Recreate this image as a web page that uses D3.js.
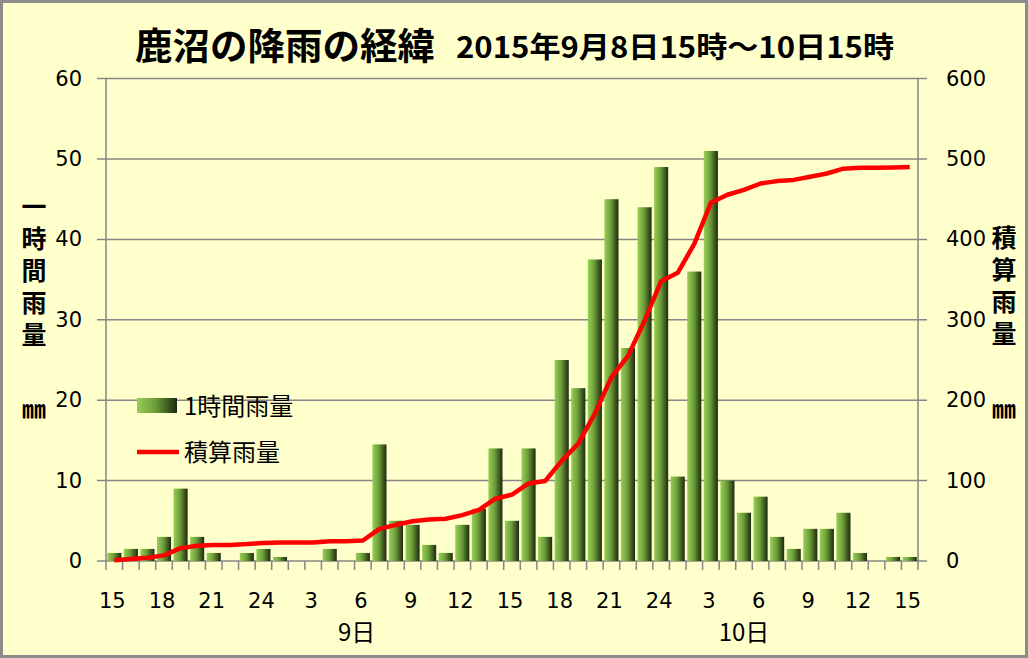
<!DOCTYPE html>
<html>
<head>
<meta charset="utf-8">
<script src="https://d3js.org/d3.v7.min.js"></script>
<style>
  body { margin: 0; background: #fff; }
  text { font-family: "DejaVu Sans", Verdana, sans-serif; }
  .jp { font-family: "Noto Sans CJK JP", sans-serif; }
</style>
</head>
<body>
<svg id="MainSVG" width="1028" height="658"></svg>
<script>
// hour labels for every category (9/8 15時 .. 9/10 15時)
var hours = [15,16,17,18,19,20,21,22,23,24,1,2,3,4,5,6,7,8,9,10,11,12,13,14,
             15,16,17,18,19,20,21,22,23,24,1,2,3,4,5,6,7,8,9,10,11,12,13,14,15];
// 1時間雨量 (mm)
var hourly = [1,1.5,1.5,3,9,3,1,0,1,1.5,0.5,0,0,1.5,0,1,14.5,5,4.5,2,1,4.5,6.5,14,
              5,14,3,25,21.5,37.5,45,26.5,44,49,10.5,36,51,10,6,8,3,1.5,4,4,6,1,0,0.5,0.5];
// 積算雨量 (mm)
var total = [1,2.5,4,7,16,19,20,20,21,22.5,23,23,23,24.5,24.5,25.5,40,45,49.5,51.5,52.5,57,63.5,77.5,
             82.5,96.5,99.5,124.5,146,183.5,228.5,255,299,348,358.5,394.5,445.5,455.5,461.5,469.5,
             472.5,474,478,482,488,489,489,489.5,490];
var leftTicks = [0,10,20,30,40,50,60];
var rightTicks = [0,100,200,300,400,500,600];

function draw() {
  var svg = d3.select("#MainSVG");

  // background + frame
  svg.append("rect").attr("x", 1.5).attr("y", 1.5).attr("width", 1025).attr("height", 655)
    .attr("fill", "#FFFFCC").attr("stroke", "#8c8c8c").attr("stroke-width", 3);

  var defs = svg.append("defs");
  var grad = defs.append("linearGradient").attr("id", "barGrad")
    .attr("x1", "0%").attr("x2", "100%").attr("y1", "0%").attr("y2", "0%");
  grad.append("stop").attr("offset", "0%").attr("stop-color", "#96d056");
  grad.append("stop").attr("offset", "45%").attr("stop-color", "#6e9e3a");
  grad.append("stop").attr("offset", "100%").attr("stop-color", "#1c2a0e");

  var pl = 106, pr = 918, pt = 78.6, pb = 561;

  var xs = d3.scaleBand().domain(d3.range(hours.length)).range([pl, pr]).paddingInner(0.15).paddingOuter(0.075);
  var xc = d3.scaleBand().domain(d3.range(hours.length)).range([pl, pr]); // full category cells
  var ys = d3.scaleLinear().domain([0, 60]).range([pb, pt]);
  var ys2 = d3.scaleLinear().domain([0, 600]).range([pb, pt]);

  // gridlines
  svg.append("g").selectAll("line").data(leftTicks).enter().append("line")
    .attr("x1", pl - 9).attr("x2", pr + 9)
    .attr("y1", function(d){ return ys(d); }).attr("y2", function(d){ return ys(d); })
    .attr("stroke", "#868686").attr("stroke-width", 1.5);

  // axis lines
  svg.append("line").attr("x1", pl).attr("x2", pl).attr("y1", pt).attr("y2", pb)
    .attr("stroke", "#868686").attr("stroke-width", 1.5);
  svg.append("line").attr("x1", pr).attr("x2", pr).attr("y1", pt).attr("y2", pb + 9)
    .attr("stroke", "#868686").attr("stroke-width", 1.5);

  // x tick marks between categories
  svg.append("g").selectAll("line").data(d3.range(hours.length)).enter().append("line")
    .attr("x1", function(d){ return xc(d); }).attr("x2", function(d){ return xc(d); })
    .attr("y1", pb).attr("y2", pb + 9)
    .attr("stroke", "#868686").attr("stroke-width", 1.5);

  // bars
  svg.append("g").selectAll("rect").data(hourly).enter().append("rect")
    .attr("x", function(d, i){ return xs(i); })
    .attr("width", xs.bandwidth())
    .attr("y", function(d){ return ys(d); })
    .attr("height", function(d){ return pb - ys(d); })
    .attr("fill", "url(#barGrad)");

  // cumulative line
  var line = d3.line()
    .x(function(d, i){ return xc(i) + xc.bandwidth() / 2; })
    .y(function(d){ return ys2(d); });
  svg.append("path").datum(total).attr("d", line)
    .attr("fill", "none").attr("stroke", "#ff0000").attr("stroke-width", 4.5)
    .attr("stroke-linejoin", "round");

  // left tick labels
  svg.append("g").selectAll("text").data(leftTicks).enter().append("text")
    .attr("x", 82).attr("y", function(d){ return ys(d) + 7; })
    .attr("text-anchor", "end").attr("font-size", "21px").text(function(d){ return d; });

  // right tick labels
  svg.append("g").selectAll("text").data(rightTicks).enter().append("text")
    .attr("x", 946).attr("y", function(d){ return ys2(d) + 7; })
    .attr("text-anchor", "start").attr("font-size", "21px").text(function(d){ return d; });

  // x labels every 3 hours
  svg.append("g").selectAll("text").data(d3.range(0, hours.length, 3)).enter().append("text")
    .attr("x", function(d){ return xc(d) + xc.bandwidth() / 2 - 2; })
    .attr("y", 608)
    .attr("text-anchor", "middle").attr("font-size", "21px")
    .text(function(d){ return hours[d]; });

  // day labels
  svg.append("text").attr("class", "jp").attr("x", xc(15) + 2).attr("y", 641)
    .attr("text-anchor", "middle").attr("font-size", "24px").text("9日");
  svg.append("text").attr("class", "jp").attr("x", xc(38) + xc.bandwidth() / 2).attr("y", 641)
    .attr("text-anchor", "middle").attr("font-size", "24px").text("10日");

  // title
  svg.append("text").attr("class", "jp").attr("x", 135).attr("y", 60)
    .attr("font-weight", "bold").attr("font-size", "37px")
    .attr("textLength", 300).attr("lengthAdjust", "spacingAndGlyphs")
    .text("鹿沼の降雨の経緯");
  svg.append("text").attr("class", "jp").attr("x", 456).attr("y", 58)
    .attr("font-weight", "bold").attr("font-size", "29px")
    .attr("textLength", 438).attr("lengthAdjust", "spacingAndGlyphs")
    .text("2015年9月8日15時～10日15時");

  // vertical axis titles
  var ltitle = ["一", "時", "間", "雨", "量"];
  svg.append("g").selectAll("text").data(ltitle).enter().append("text")
    .attr("class", "jp").attr("x", 34).attr("y", function(d, i){ return 216 + i * 32; })
    .attr("text-anchor", "middle").attr("font-size", "25px").attr("font-weight", "bold")
    .text(function(d){ return d; });
  svg.append("text").attr("class", "jp").attr("x", 34).attr("y", 418)
    .attr("text-anchor", "middle").attr("font-size", "24px").attr("font-weight", "bold").text("㎜");

  var rtitle = ["積", "算", "雨", "量"];
  svg.append("g").selectAll("text").data(rtitle).enter().append("text")
    .attr("class", "jp").attr("x", 1004).attr("y", function(d, i){ return 247 + i * 32; })
    .attr("text-anchor", "middle").attr("font-size", "25px").attr("font-weight", "bold")
    .text(function(d){ return d; });
  svg.append("text").attr("class", "jp").attr("x", 1004).attr("y", 418)
    .attr("text-anchor", "middle").attr("font-size", "24px").attr("font-weight", "bold").text("㎜");

  // legend
  svg.append("rect").attr("x", 137).attr("y", 398).attr("width", 40).attr("height", 15)
    .attr("fill", "url(#barGrad)");
  svg.append("text").attr("class", "jp").attr("x", 184).attr("y", 415)
    .attr("font-size", "24px").text("1時間雨量");
  svg.append("line").attr("x1", 137).attr("x2", 179).attr("y1", 452).attr("y2", 452)
    .attr("stroke", "#ff0000").attr("stroke-width", 4.5);
  svg.append("text").attr("class", "jp").attr("x", 184).attr("y", 461)
    .attr("font-size", "24px").text("積算雨量");
}
draw();
</script>
</body>
</html>
